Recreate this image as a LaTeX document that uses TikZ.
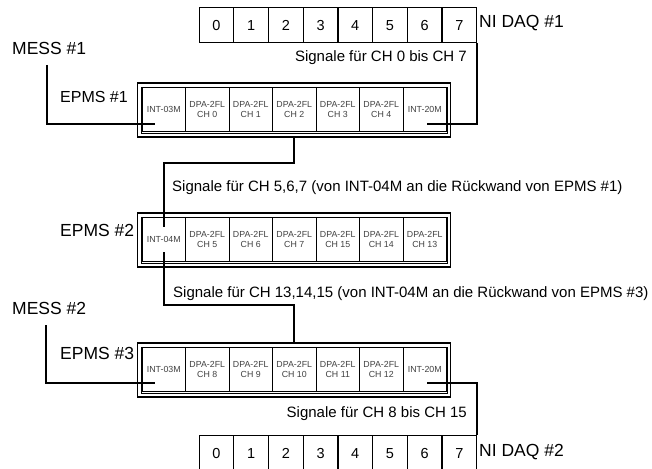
\documentclass[tikz,border=0pt]{standalone}
\usepackage{fontspec}
\setmainfont{Liberation Sans}
\begin{document}
\begin{tikzpicture}[x=1pt,y=-1pt,
  wire/.style={line width=2pt,line join=miter},
  outerbox/.style={line width=1.8pt},
  innerbox/.style={line width=0.7pt},
  cell/.style={draw,line width=1pt,minimum width=43.5pt,minimum height=43.5pt,inner sep=0pt,anchor=north west,font=\fontsize{8.8}{9.8}\selectfont,align=center,text=black!75},
  daqcell/.style={draw,line width=1.2pt,minimum width=34.7pt,minimum height=35pt,inner sep=0pt,anchor=north west,font=\fontsize{14.5}{16}\selectfont},
  biglabel/.style={inner sep=0pt,font=\fontsize{17.5}{19}\selectfont},
  midlabel/.style={inner sep=0pt,font=\fontsize{16}{18}\selectfont},
  siglabel/.style={inner sep=0pt,font=\fontsize{15}{17}\selectfont}
]
\useasboundingbox (0,0) rectangle (652,468);

% ---------- NI DAQ #1 ----------
\foreach \i in {0,...,7}{
  \node[daqcell] (da\i) at (198.5+34.7*\i,7) {\i};
}
\node[biglabel,anchor=west] (daq1lbl) at (479,23) {NI DAQ \#1};

% ---------- NI DAQ #2 ----------
\foreach \i in {0,...,7}{
  \node[daqcell] (db\i) at (198.5+34.7*\i,435) {\i};
}
\node[biglabel,anchor=west] (daq2lbl) at (479,452) {NI DAQ \#2};

% ---------- EPMS boxes ----------
% EPMS #1
\draw[outerbox] (137.5,83) rectangle (450.5,137);
\coordinate (e1bot) at (294,137);
\draw[innerbox] (141.5,87) rectangle (447.5,133);
\node[cell] (e1c0) at (141.5,87) {INT-03M};
\node[cell] (e1c1) at (185,87) {DPA-2FL\\CH 0};
\node[cell] (e1c2) at (228.5,87) {DPA-2FL\\CH 1};
\node[cell] (e1c3) at (272,87) {DPA-2FL\\CH 2};
\node[cell] (e1c4) at (315.5,87) {DPA-2FL\\CH 3};
\node[cell] (e1c5) at (359,87) {DPA-2FL\\CH 4};
\node[cell] (e1c6) at (402.5,87) {INT-20M};

% EPMS #2
\draw[outerbox] (137.5,213) rectangle (450.5,267);
\draw[innerbox] (141.5,217) rectangle (447.5,263);
\node[cell] (e2c0) at (141.5,217) {INT-04M};
\node[cell] (e2c1) at (185,217) {DPA-2FL\\CH 5};
\node[cell] (e2c2) at (228.5,217) {DPA-2FL\\CH 6};
\node[cell] (e2c3) at (272,217) {DPA-2FL\\CH 7};
\node[cell] (e2c4) at (315.5,217) {DPA-2FL\\CH 15};
\node[cell] (e2c5) at (359,217) {DPA-2FL\\CH 14};
\node[cell] (e2c6) at (402.5,217) {DPA-2FL\\CH 13};

% EPMS #3
\draw[outerbox] (137.5,343) rectangle (450.5,397);
\coordinate (e3top) at (294,343);
\draw[innerbox] (141.5,347) rectangle (447.5,393);
\node[cell] (e3c0) at (141.5,347) {INT-03M};
\node[cell] (e3c1) at (185,347) {DPA-2FL\\CH 8};
\node[cell] (e3c2) at (228.5,347) {DPA-2FL\\CH 9};
\node[cell] (e3c3) at (272,347) {DPA-2FL\\CH 10};
\node[cell] (e3c4) at (315.5,347) {DPA-2FL\\CH 11};
\node[cell] (e3c5) at (359,347) {DPA-2FL\\CH 12};
\node[cell] (e3c6) at (402.5,347) {INT-20M};

% ---------- labels ----------
\node[biglabel,anchor=west] (mess1) at (12,48) {MESS \#1};
\node[biglabel,anchor=west] (mess2) at (12,308) {MESS \#2};
\node[midlabel,anchor=west] (ep1) at (60,97) {EPMS \#1};
\node[biglabel,anchor=west] (ep2) at (60,230) {EPMS \#2};
\node[biglabel,anchor=west] (ep3) at (60,353) {EPMS \#3};
\node[siglabel,anchor=east] (s1) at (467,58) {Signale für CH 0 bis CH 7};
\node[siglabel,anchor=west] (s2) at (172,188) {Signale für CH 5,6,7 (von INT-04M an die Rückwand von EPMS \#1)};
\node[siglabel,anchor=west] (s3) at (173,294) {Signale für CH 13,14,15 (von INT-04M an die Rückwand von EPMS \#3)};
\node[siglabel,anchor=east] (s4) at (467,414) {Signale für CH 8 bis CH 15};

% ---------- wires ----------
\coordinate (m1start) at (47,65);
\coordinate (m1end) at (155,124);
\draw[wire] (m1start) |- (m1end);

\coordinate (d1end) at (427,124);
\draw[wire] (da7.south east) |- (d1end);

\coordinate (e2in) at (163.5,227);
\draw[wire] (e1bot) -- ++(0,26) -| (e2in);

\coordinate (e2out) at (163.5,252);
\draw[wire] (e2out) |- (294,305) -- (e3top);

\coordinate (m2start) at (46,325);
\coordinate (m2end) at (155,383);
\draw[wire] (m2start) |- (m2end);

\coordinate (e3out) at (427,383);
\draw[wire] (e3out) -| (db7.north east);

\end{tikzpicture}
\end{document}
